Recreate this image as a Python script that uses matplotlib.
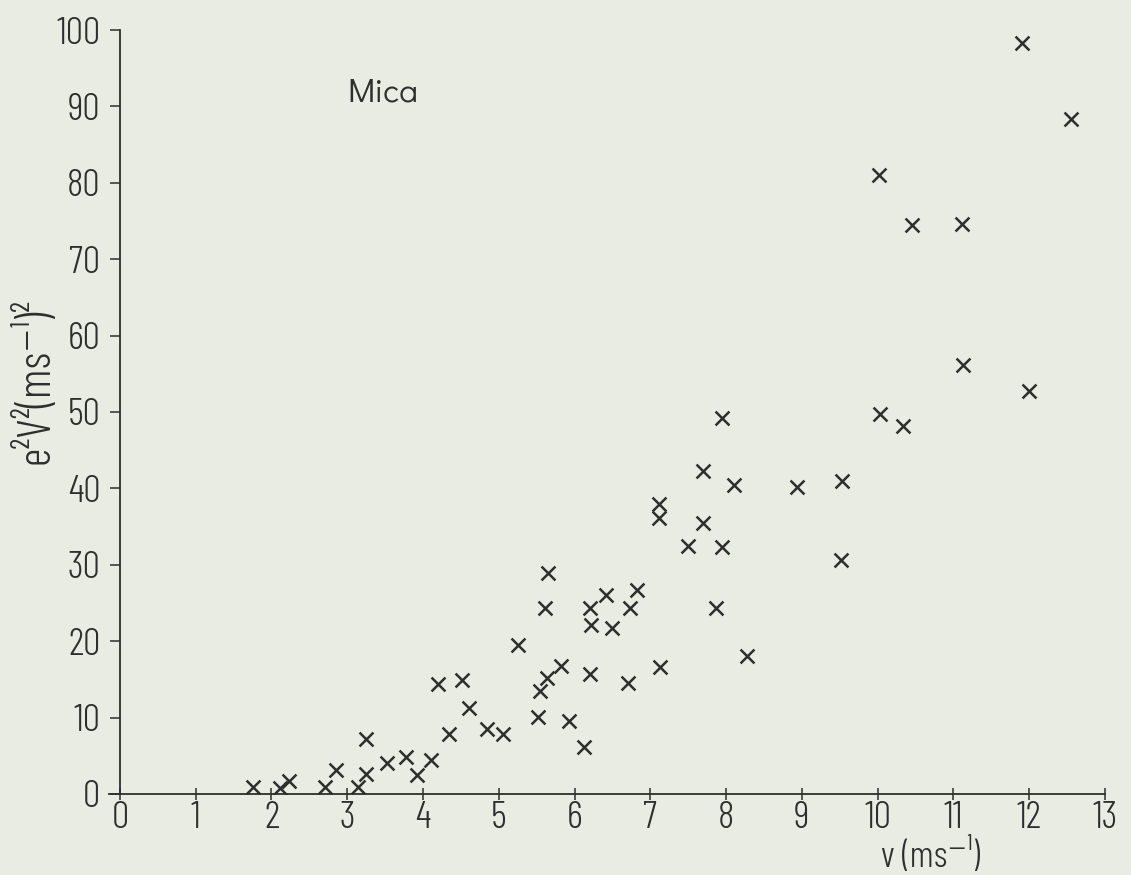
import matplotlib
matplotlib.use("Agg")
import matplotlib.pyplot as plt

# Measured impact velocity v (m/s) and e^2 v^2 ((m/s)^2) for mica
v_values = [1.76, 2.11, 2.23, 2.70, 2.85, 3.14, 3.25, 3.25, 3.53, 3.77,
            3.92, 4.10, 4.20, 4.34, 4.51, 4.61, 4.85, 5.06, 5.25, 5.52,
            5.55, 5.63, 5.61, 5.65, 5.82, 5.93, 6.13, 6.20, 6.21, 6.22,
            6.42, 6.50, 6.71, 6.73, 6.82, 7.13, 7.12, 7.12, 7.50, 7.70,
            7.70, 7.87, 7.94, 7.94, 8.10, 8.27, 8.93, 9.53, 9.52, 10.02,
            10.03, 10.33, 10.45, 11.11, 11.13, 11.91, 12.00, 12.55]
e2v2_values = [0.96, 0.74, 1.7, 0.96, 3.2, 0.96, 2.6, 7.2, 4.1, 4.8,
               2.5, 4.4, 14.4, 7.8, 14.9, 11.2, 8.5, 7.8, 19.5, 10.1,
               13.5, 15.2, 24.4, 28.9, 16.8, 9.6, 6.1, 15.7, 24.3, 22.1,
               26.0, 21.7, 14.5, 24.4, 26.7, 16.6, 36.1, 38.0, 32.4, 35.5,
               42.3, 24.3, 32.3, 49.2, 40.5, 18.0, 40.2, 41.0, 30.6, 81.0,
               49.7, 48.2, 74.5, 74.6, 56.2, 98.3, 52.8, 88.3]

x_ticks = list(range(0, 14))
y_ticks = list(range(0, 101, 10))

label_family = ["Barlow Condensed", "DejaVu Sans"]
title_family = ["Didact Gothic", "DejaVu Sans"]

paper = "#e9ece2"
ink = "#2e2e2e"

fig = plt.figure(figsize=(11.31, 8.75), dpi=100, facecolor=paper)
ax = fig.add_axes([0.0960, 0.0926, 0.881, 0.8731])
ax.set_facecolor(paper)

ax.scatter(v_values, e2v2_values, marker="x", s=100, linewidths=1.8,
           color=ink, zorder=3)

ax.set_xlim(-0.15, 13.0)
ax.set_ylim(0, 100)
ax.spines["left"].set_position(("data", 0))
for side in ("top", "right"):
    ax.spines[side].set_visible(False)
for side in ("left", "bottom"):
    ax.spines[side].set_color(ink)
    ax.spines[side].set_linewidth(1.3)

ax.set_xticks(x_ticks)
ax.set_yticks(y_ticks)
ax.set_xticklabels([str(t) for t in x_ticks], family=label_family,
                   weight=300, fontsize=28, color=ink)
ax.set_yticklabels([str(t) for t in y_ticks], family=label_family,
                   weight=300, fontsize=28, color=ink)
ax.tick_params(axis="x", direction="inout", length=8, width=1.1,
               color=ink, pad=1)
ax.tick_params(axis="y", direction="out", length=7, width=1.1,
               color=ink, pad=7)

ax.text(10.7, -8.1, "v (ms\u207b\u00b9)", family=label_family, weight=300,
        fontsize=27, color=ink, ha="center", va="center", clip_on=False)
fig.text(0.031, 0.565, "e\u00b2V\u00b2(ms\u207b\u00b9)\u00b2", family=label_family,
         weight=300, fontsize=33, color=ink, rotation=90,
         ha="center", va="center")
ax.text(3.0, 91.8, "Mica", family=title_family, fontsize=24, color=ink,
        ha="left", va="center")

fig.savefig("out.png", dpi=100, facecolor=paper)
